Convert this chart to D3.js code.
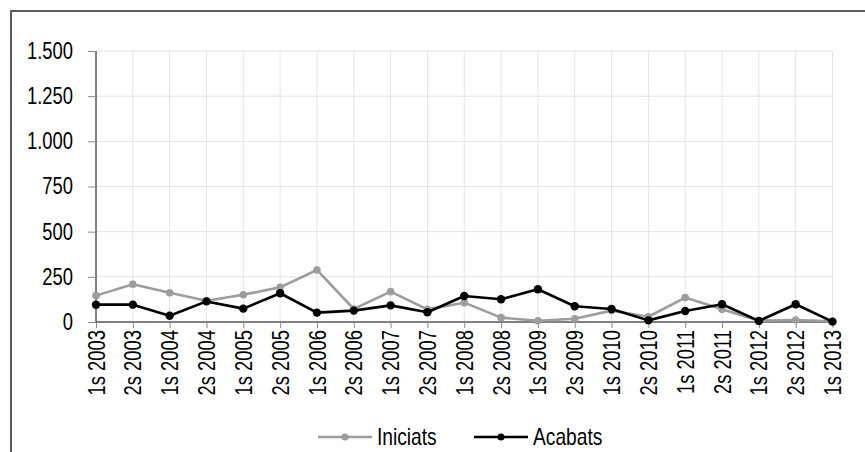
<!DOCTYPE html>
<html>
<head>
<meta charset="utf-8">
<script src="https://cdn.jsdelivr.net/npm/d3@7"></script>
<style>
  body { margin: 0; background: #fff; }
  svg text { font-family: "Liberation Sans", Arial, sans-serif; }
</style>
</head>
<body>
<svg id="chart" width="865" height="452"></svg>
<script>
// categories (semesters)
const categories = ["1s 2003", "2s 2003", "1s 2004", "2s 2004", "1s 2005", "2s 2005", "1s 2006",
  "2s 2006", "1s 2007", "2s 2007", "1s 2008", "2s 2008", "1s 2009", "2s 2009", "1s 2010",
  "2s 2010", "1s 2011", "2s 2011", "1s 2012", "2s 2012", "1s 2013"];

const iniciats = [146, 209, 162, 118, 151, 192, 288, 72, 168, 70, 107, 24, 7, 18, 63, 29, 135, 70, 7, 11, 4];
const acabats = [96, 96, 35, 114, 74, 159, 52, 63, 92, 54, 144, 126, 181, 87, 72, 9, 61, 98, 6, 98, 2];

const yTicks = [0, 250, 500, 750, 1000, 1250, 1500];

const seriesNames = ["Iniciats", "Acabats"];
const seriesColors = ["#9d9d9d", "#000000"];

const svg = d3.select("#chart");
const plotLeft = 96, plotRight = 832.5, plotTop = 51, plotBottom = 322;
const narrow = 0.8; // the original font is a condensed face

const locale = d3.formatLocale({ decimal: ",", thousands: ".", grouping: [3], currency: ["", "€"] });
const fmt = locale.format(",d");

// outer frame (cut off on the right and bottom)
svg.append("rect")
  .attr("x", 11).attr("y", 11)
  .attr("width", 1000).attr("height", 1000)
  .attr("fill", "none")
  .attr("stroke", "#5c5c5c")
  .attr("stroke-width", 2);

const x = d3.scalePoint().domain(categories).range([plotLeft, plotRight]);
const y = d3.scaleLinear().domain([0, 1500]).range([plotBottom, plotTop]);

// grid
svg.append("g")
  .selectAll("line")
  .data(yTicks.slice(1))
  .enter().append("line")
  .attr("x1", plotLeft).attr("x2", plotRight)
  .attr("y1", d => y(d)).attr("y2", d => y(d))
  .attr("stroke", "#e4e4e4").attr("stroke-width", 1);

svg.append("g")
  .selectAll("line")
  .data(categories.slice(1))
  .enter().append("line")
  .attr("x1", d => x(d)).attr("x2", d => x(d))
  .attr("y1", plotTop).attr("y2", plotBottom)
  .attr("stroke", "#e4e4e4").attr("stroke-width", 1);

// y axis
const yAxis = svg.append("g")
  .attr("transform", "translate(" + plotLeft + ",0)")
  .call(d3.axisLeft(y).tickValues(yTicks).tickFormat(fmt).tickSize(8));
yAxis.select(".domain").attr("stroke", "#000").attr("d", "M0," + plotTop + "V" + plotBottom);
yAxis.selectAll(".tick line").attr("stroke", "#8a8a8a");
yAxis.selectAll("text")
  .style("font-size", "23px")
  .attr("fill", "#000")
  .attr("x", 0)
  .attr("transform", "translate(-23,0) scale(" + narrow + ",1)");

// x axis
const xAxis = svg.append("g")
  .attr("transform", "translate(0," + plotBottom + ")")
  .call(d3.axisBottom(x).tickSize(6).tickSizeOuter(0));
xAxis.select(".domain").attr("stroke", "#000").attr("d", "M" + plotLeft + ",0H" + plotRight);
xAxis.selectAll(".tick line").attr("stroke", "#8a8a8a");
xAxis.selectAll("text")
  .style("font-size", "23px")
  .attr("fill", "#000")
  .attr("transform", "rotate(-90) translate(-8,0) scale(" + narrow + ",1)")
  .attr("x", 0)
  .attr("y", 0)
  .attr("dy", "0.35em")
  .style("text-anchor", "end");

// lines
const line = d3.line().x((d, i) => x(categories[i])).y(d => y(d));
[iniciats, acabats].forEach((vals, s) => {
  svg.append("path")
    .datum(vals)
    .attr("d", line)
    .attr("fill", "none")
    .attr("stroke", seriesColors[s])
    .attr("stroke-width", 2.6)
    .attr("stroke-linejoin", "round");
  svg.append("g")
    .selectAll("circle")
    .data(vals)
    .enter().append("circle")
    .attr("cx", (d, i) => x(categories[i]))
    .attr("cy", d => y(d))
    .attr("r", s === 0 ? 3.8 : 4.2)
    .attr("fill", seriesColors[s]);
});

// legend
const legendX = [318, 474];
const legendY = 437;
const lg = svg.append("g");
seriesNames.forEach((name, s) => {
  const g = lg.append("g").attr("transform", "translate(" + legendX[s] + "," + legendY + ")");
  g.append("line").attr("x1", 0).attr("x2", 54).attr("y1", 0).attr("y2", 0)
    .attr("stroke", seriesColors[s]).attr("stroke-width", 2.6);
  g.append("circle").attr("cx", 27).attr("cy", 0).attr("r", 3.5).attr("fill", seriesColors[s]);
  g.append("text")
    .attr("transform", "translate(59,0) scale(" + narrow + ",1)")
    .attr("dy", "0.35em")
    .style("font-size", "24px").attr("fill", "#000").text(name);
});
</script>
</body>
</html>
